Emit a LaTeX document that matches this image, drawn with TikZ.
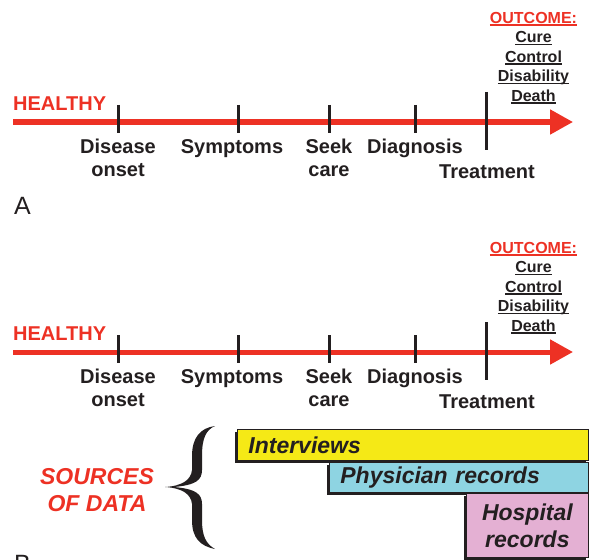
\documentclass[tikz,border=0pt]{standalone}
\usepackage{fontspec}
\setmainfont{Liberation Sans}
\usetikzlibrary{arrows.meta,shadows}

\definecolor{hred}{HTML}{ED3124}
\definecolor{ink}{HTML}{231F20}
\definecolor{ivyellow}{HTML}{F5E916}
\definecolor{phcyan}{HTML}{8ED4E2}
\definecolor{hspink}{HTML}{E4B0D3}

\newsavebox\ulbox
\newcommand{\undl}[1]{\sbox\ulbox{#1}\rlap{\rule[-2.6pt]{\wd\ulbox}{1.5pt}}\usebox\ulbox}

\tikzset{
  timeline/.style={hred, line width=5pt, -{Triangle[length=23pt,width=24pt]}},
  tick/.style={ink, line width=3pt},
  lbl/.style={text=ink, font=\bfseries\fontsize{20}{22.5}\selectfont, align=center, inner sep=0pt},
  outc/.style={text=ink, font=\bfseries\fontsize{16}{19.5}\selectfont, align=center, inner sep=0pt},
  panel/.style={text=ink, font=\fontsize{25}{25}\selectfont, inner sep=0pt},
  bar/.style={draw=ink, line width=0.8pt, text=ink, inner xsep=11pt, inner ysep=0pt,
    font=\bfseries\itshape\fontsize{23}{27}\selectfont,
    drop shadow={shadow xshift=-2.5pt, shadow yshift=-2.5pt, fill=ink, opacity=1}}
}

\begin{document}
\begin{tikzpicture}[x=1pt, y=-1pt]
    \useasboundingbox (0,0) rectangle (591,559);

    % Two timelines, panel A and panel B
    \foreach \p/\dy in {a/0,b/230} {
    \begin{scope}[shift={(0,\dy)}]
        \coordinate (\p-start) at (13,122);
        \coordinate (\p-end) at (573,122);
        \draw[timeline] (\p-start) -- (\p-end);
        \node[lbl, text=hred, anchor=north west] (\p-hl) at (13,97) {HEALTHY};

        % ticks
        \foreach \x in {118,238,329,415}
            \draw[tick] (\x,105) -- (\x,133);
        \draw[tick] (486,92) -- (486,150);

        % stages
        \node[lbl, anchor=north] (\p-ons) at (118,139) {Disease\\onset};
        \node[lbl, anchor=north] (\p-sym) at (232,139) {Symptoms};
        \node[lbl, anchor=north] (\p-seek) at (329,139) {Seek\\care};
        \node[lbl, anchor=north] (\p-diag) at (415,139) {Diagnosis};
        \node[lbl, anchor=north] (\p-treat) at (487,165) {Treatment};

        % outcome
        \node[outc, anchor=north] (\p-out) at (533.5,11.7)
            {\textcolor{hred}{\undl{OUTCOME:}}\\\undl{Cure}\\\undl{Control}\\\undl{Disability}\\\undl{Death}};
    \end{scope}
    }

    \node[panel, anchor=north west] (la) at (14,197) {A};
    \node[panel, anchor=north west] (lb) at (14,555) {B};

    % Sources of data
    \node[lbl, text=hred, font=\bfseries\itshape\fontsize{23}{27}\selectfont] (src) at (97,490) {SOURCES\\OF DATA};
    \fill[ink] (215,426) .. controls (200,428) and (192,438) .. (192,456) -- (192,470)
        .. controls (191,480) and (182,486) .. (165,487)
        .. controls (182,488) and (191,494) .. (192,504) -- (192,520)
        .. controls (192,538) and (200,546) .. (215,549)
        .. controls (206,544) and (202,536) .. (202,520) -- (202,504)
        .. controls (202,494) and (196,489) .. (174,487)
        .. controls (196,485) and (202,480) .. (202,470) -- (202,456)
        .. controls (202,438) and (206,430) .. (215,426) -- cycle;

    \node[bar, fill=ivyellow, minimum width=351pt, minimum height=31pt, text width=329pt,
        align=left, anchor=north west] (intv) at (237,429) {Interviews};
    \node[bar, fill=phcyan, minimum width=259pt, minimum height=30pt, text width=237pt,
        align=left, anchor=north west] (phys) at (329,462) {Physician records};
    \node[bar, fill=hspink, minimum width=122pt, minimum height=64pt, text width=100pt,
        align=center, anchor=north west] (hosp) at (466,493) {Hospital\\records};
\end{tikzpicture}
\end{document}
